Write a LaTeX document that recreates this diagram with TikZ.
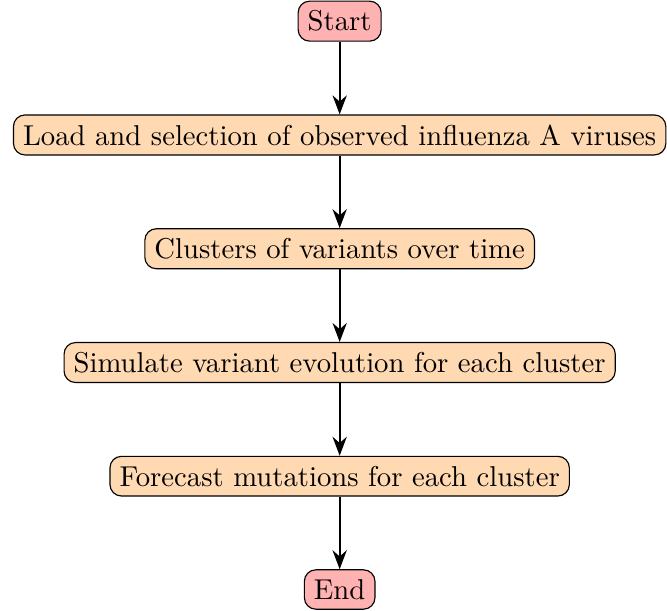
\documentclass[tikz,border=0pt]{standalone}
\usepackage{amsmath,amssymb}
\usetikzlibrary{positioning,arrows.meta}

\tikzset{
  startstop/.style={rectangle, rounded corners, draw=black, fill=red!30},
  process/.style={rectangle, rounded corners, draw=black, fill=orange!30},
  arrow/.style={thick,-Stealth}
}

\begin{document}
\begin{tikzpicture}[node distance=0.89cm]
      \node (start) [startstop] {Start};
      \node (load) [process, below=of start] {Load and selection of observed influenza A viruses};
      \node (clust) [process, below=of load] {Clusters of variants over time};
      \node (sim) [process, below=of clust] {Simulate variant evolution for each cluster};
      \node (fore) [process, below=of sim] {Forecast mutations for each cluster};
      \node (stop) [startstop, below=of fore] {End};

      \draw [arrow] (start) -- (load);
      \draw [arrow] (load) -- (clust);
      \draw [arrow] (clust) -- (sim);
      \draw [arrow] (sim) -- (fore);
      \draw [arrow] (fore) -- (stop);

      % margins
      \useasboundingbox ([xshift=-4.5pt,yshift=0.2pt]load.west |- start.north) rectangle ([xshift=0.2pt,yshift=-0.2pt]load.east |- stop.south);
    \end{tikzpicture}
\end{document}
